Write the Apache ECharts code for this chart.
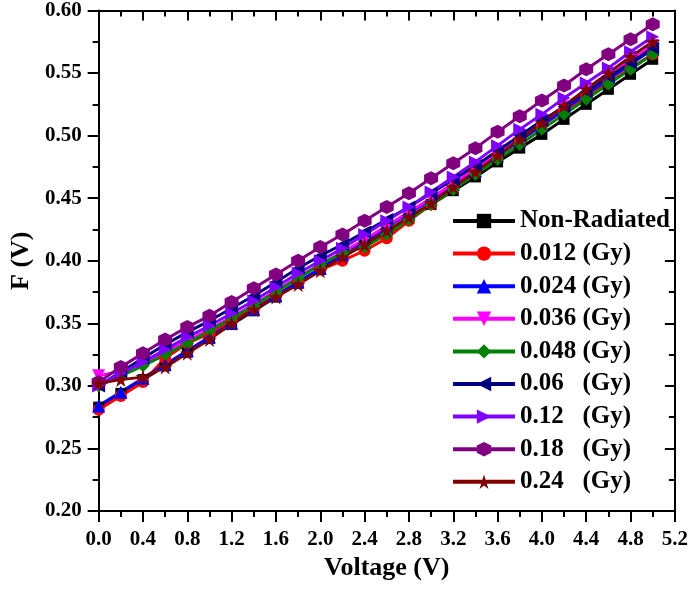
<!DOCTYPE html>
<html>
<head>
<meta charset="utf-8">
<script src="https://cdn.jsdelivr.net/npm/echarts@6/dist/echarts.min.js"></script>
<style>html,body{margin:0;padding:0;background:#fff;}#c{width:691px;height:595px;}</style>
</head>
<body>
<div id="c"></div>
<script>
const voltage = [0.0,0.2,0.4,0.6,0.8,1.0,1.2,1.4,1.6,1.8,2.0,2.2,2.4,2.6,2.8,3.0,3.2,3.4,3.6,3.8,4.0,4.2,4.4,4.6,4.8,5.0];
const seriesNames = ['Non-Radiated','0.012 (Gy)','0.024 (Gy)','0.036 (Gy)','0.048 (Gy)','0.06   (Gy)','0.12   (Gy)','0.18   (Gy)','0.24   (Gy)'];
const nonRadiated = [0.283,0.294,0.305,0.316,0.327,0.338,0.349,0.360,0.371,0.382,0.393,0.403,0.413,0.423,0.434,0.445,0.456,0.467,0.479,0.490,0.501,0.513,0.525,0.537,0.549,0.561];
const gy0012 = [0.281,0.292,0.303,0.322,0.334,0.342,0.352,0.362,0.372,0.383,0.393,0.400,0.408,0.418,0.432,0.445,0.458,0.471,0.484,0.496,0.508,0.520,0.531,0.542,0.554,0.565];
const gy0024 = [0.284,0.295,0.306,0.317,0.328,0.339,0.350,0.361,0.372,0.383,0.394,0.405,0.415,0.427,0.438,0.449,0.461,0.472,0.484,0.496,0.508,0.521,0.533,0.545,0.557,0.569];
const gy0036 = [0.308,0.312,0.318,0.327,0.336,0.345,0.355,0.365,0.376,0.387,0.397,0.407,0.417,0.428,0.439,0.450,0.462,0.474,0.486,0.498,0.511,0.523,0.535,0.547,0.560,0.572];
const gy0048 = [0.300,0.308,0.316,0.325,0.334,0.344,0.354,0.364,0.375,0.386,0.397,0.406,0.411,0.421,0.433,0.445,0.457,0.469,0.481,0.493,0.505,0.517,0.529,0.541,0.553,0.565];
const gy006 = [0.300,0.311,0.322,0.333,0.343,0.352,0.362,0.372,0.383,0.394,0.404,0.413,0.423,0.433,0.443,0.454,0.465,0.476,0.488,0.500,0.512,0.523,0.535,0.547,0.558,0.570];
const gy012 = [0.300,0.310,0.319,0.329,0.339,0.348,0.358,0.368,0.379,0.390,0.400,0.410,0.421,0.432,0.443,0.455,0.467,0.479,0.492,0.505,0.517,0.530,0.542,0.554,0.567,0.579];
const gy018 = [0.303,0.315,0.326,0.337,0.347,0.356,0.367,0.378,0.389,0.400,0.411,0.421,0.432,0.443,0.454,0.466,0.478,0.490,0.503,0.5155,0.528,0.540,0.553,0.565,0.577,0.589];
const gy024 = [0.302,0.305,0.307,0.315,0.326,0.337,0.350,0.361,0.371,0.381,0.392,0.403,0.413,0.424,0.435,0.446,0.459,0.471,0.484,0.497,0.510,0.524,0.537,0.550,0.563,0.575];
const allValues = [nonRadiated,gy0012,gy0024,gy0036,gy0048,gy006,gy012,gy018,gy024];
const colors = ['#000000','#ff0000','#0000ff','#ff00ff','#008000','#000080','#8000ff','#800080','#800000'];
const hexagon = 'path://M0,-1L0.866,-0.5L0.866,0.5L0,1L-0.866,0.5L-0.866,-0.5Z';
const star = 'path://M0,-1L0.2245,-0.309L0.951,-0.309L0.363,0.118L0.588,0.809L0,0.382L-0.588,0.809L-0.363,0.118L-0.951,-0.309L-0.2245,-0.309Z';
const symbols = ['rect','circle','triangle','triangle','diamond','triangle','triangle',hexagon,star];
const rotations = [0,0,0,180,0,90,-90,0,0];
const sizes = [11,12,13,13,13,13,13,14,15];

const FONT = '"Liberation Serif","Times New Roman",serif';
const chart = echarts.init(document.getElementById('c'), null, {renderer:'canvas'});
const series = allValues.map((vals,i)=>({
  name: seriesNames[i],
  type: 'line',
  data: voltage.map((x,j)=>[x, vals[j]]),
  symbol: symbols[i],
  symbolSize: sizes[i],
  symbolRotate: rotations[i],
  showAllSymbol: true,
  lineStyle: {color: colors[i], width: 3},
  itemStyle: {color: colors[i]},
  emphasis: {disabled: true}
}));

const tickLabel = {fontFamily: FONT, fontWeight: 'bold', fontSize: 21, color: '#000'};
const axisLineStyle = {color: '#000', width: 2};
chart.setOption({
  animation: false,
  backgroundColor: '#fff',
  grid: {left: 94, right: 14, top: 9, bottom: 84, containLabel: false},
  legend: {
    orient: 'vertical', left: 446, top: 203,
    itemWidth: 62, itemHeight: 18, itemGap: 6.6,
    lineStyle: {width: 4},
    textStyle: {fontFamily: FONT, fontWeight: 'bold', fontSize: 25, color: '#000', lineHeight: 26},
    data: seriesNames
  },
  xAxis: [{
    type: 'value', min: 0, max: 5.2, interval: 0.4,
    name: 'Voltage (V)', nameLocation: 'middle', nameGap: 38,
    nameTextStyle: {fontFamily: FONT, fontWeight: 'bold', fontSize: 26, color: '#000'},
    axisLine: {show: true, onZero: false, lineStyle: axisLineStyle},
    axisTick: {show: true, inside: false, length: 11, lineStyle: axisLineStyle},
    minorTick: {show: true, splitNumber: 2, length: 6, lineStyle: axisLineStyle},
    axisLabel: Object.assign({margin: 18, formatter: v => v.toFixed(1)}, tickLabel),
    splitLine: {show: false}
  },{
    type: 'value', position: 'top', min: 0, max: 5.2, interval: 0.4,
    axisLine: {show: true, onZero: false, lineStyle: axisLineStyle},
    axisTick: {show: true, inside: true, length: 10, lineStyle: axisLineStyle},
    minorTick: {show: true, splitNumber: 2, length: 6, lineStyle: axisLineStyle},
    axisLabel: {show: false},
    splitLine: {show: false}
  }],
  yAxis: [{
    type: 'value', min: 0.2, max: 0.6, interval: 0.05,
    name: 'F (V)', nameLocation: 'middle', nameGap: 62,
    nameTextStyle: {fontFamily: FONT, fontWeight: 'bold', fontSize: 26, color: '#000'},
    axisLine: {show: true, onZero: false, lineStyle: axisLineStyle},
    axisTick: {show: true, inside: false, length: 11, lineStyle: axisLineStyle},
    minorTick: {show: true, splitNumber: 2, length: 6, lineStyle: axisLineStyle},
    axisLabel: Object.assign({margin: 17, formatter: v => v.toFixed(2)}, tickLabel),
    splitLine: {show: false}
  },{
    type: 'value', position: 'right', min: 0.2, max: 0.6, interval: 0.05,
    axisLine: {show: true, onZero: false, lineStyle: axisLineStyle},
    axisTick: {show: true, inside: true, length: 10, lineStyle: axisLineStyle},
    minorTick: {show: true, splitNumber: 2, length: 6, lineStyle: axisLineStyle},
    axisLabel: {show: false},
    splitLine: {show: false}
  }],
  series: series
});
</script>
</body>
</html>
